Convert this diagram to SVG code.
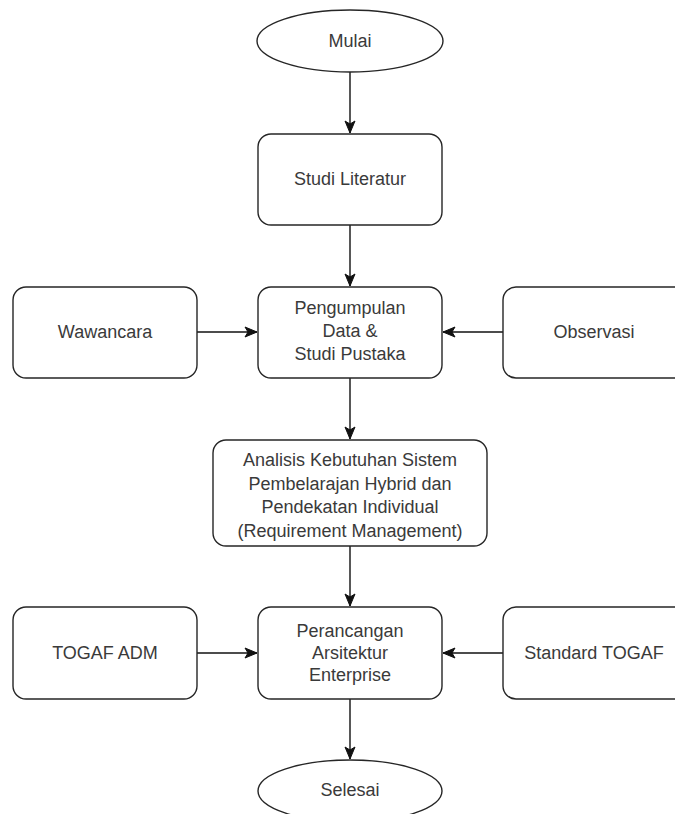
<svg xmlns="http://www.w3.org/2000/svg" width="675" height="814" viewBox="0 0 675 814">
<style>
.n{fill:#fff;stroke:#262626;stroke-width:1.4}
.t{font-family:"Liberation Sans",Arial,sans-serif;font-size:18px;fill:#3a3a3a;text-anchor:middle;dominant-baseline:central}
.e{stroke:#111;stroke-width:1.4;fill:none;marker-end:url(#ah)}
</style>
<defs>
<marker id="ah" markerUnits="userSpaceOnUse" markerWidth="14" markerHeight="14" viewBox="0 0 14 14" refX="13" refY="7" orient="auto">
<path d="M1,2 L13,7 L1,12 L4,7 Z" fill="#111" stroke="#111" stroke-width="1"/>
</marker>
</defs>
<rect width="675" height="814" fill="#fff"/>
<g id="edges">
<line class="e" x1="350" y1="72" x2="350" y2="133"/>
<line class="e" x1="350" y1="225" x2="350" y2="286"/>
<line class="e" x1="197" y1="332" x2="257" y2="332"/>
<line class="e" x1="503" y1="332" x2="443" y2="332"/>
<line class="e" x1="350" y1="378" x2="350" y2="439"/>
<line class="e" x1="350" y1="546" x2="350" y2="606"/>
<line class="e" x1="197" y1="653" x2="257" y2="653"/>
<line class="e" x1="503" y1="653" x2="443" y2="653"/>
<line class="e" x1="350" y1="699" x2="350" y2="759"/>
</g>
<g id="mulai">
<ellipse class="n" cx="350" cy="41" rx="93" ry="31"/>
<text class="t" x="350" y="41">Mulai</text>
</g>
<g id="studi-literatur">
<rect class="n" x="258" y="134" width="184" height="91" rx="13"/>
<text class="t" x="350" y="179">Studi Literatur</text>
</g>
<g id="wawancara">
<rect class="n" x="13" y="287" width="184" height="91" rx="13"/>
<text class="t" x="105" y="332">Wawancara</text>
</g>
<g id="pengumpulan">
<rect class="n" x="258" y="287" width="184" height="91" rx="13"/>
<text class="t" x="350" y="308">Pengumpulan</text>
<text class="t" x="350" y="331">Data &amp;</text>
<text class="t" x="350" y="354">Studi Pustaka</text>
</g>
<g id="observasi">
<rect class="n" x="503" y="287" width="184" height="91" rx="13"/>
<text class="t" x="594" y="332">Observasi</text>
</g>
<g id="analisis">
<rect class="n" x="213" y="440" width="274" height="106" rx="13"/>
<text class="t" x="350" y="460">Analisis Kebutuhan Sistem</text>
<text class="t" x="350" y="483.5">Pembelarajan Hybrid dan</text>
<text class="t" x="350" y="507">Pendekatan Individual</text>
<text class="t" x="350" y="530.5">(Requirement Management)</text>
</g>
<g id="togaf-adm">
<rect class="n" x="13" y="607" width="184" height="92" rx="13"/>
<text class="t" x="105" y="653">TOGAF ADM</text>
</g>
<g id="perancangan">
<rect class="n" x="258" y="607" width="184" height="92" rx="13"/>
<text class="t" x="350" y="631">Perancangan</text>
<text class="t" x="350" y="653">Arsitektur</text>
<text class="t" x="350" y="675">Enterprise</text>
</g>
<g id="standard-togaf">
<rect class="n" x="503" y="607" width="184" height="92" rx="13"/>
<text class="t" x="594" y="653">Standard TOGAF</text>
</g>
<g id="selesai">
<ellipse class="n" cx="350" cy="791" rx="92" ry="31"/>
<text class="t" x="350" y="790">Selesai</text>
</g>
</svg>
